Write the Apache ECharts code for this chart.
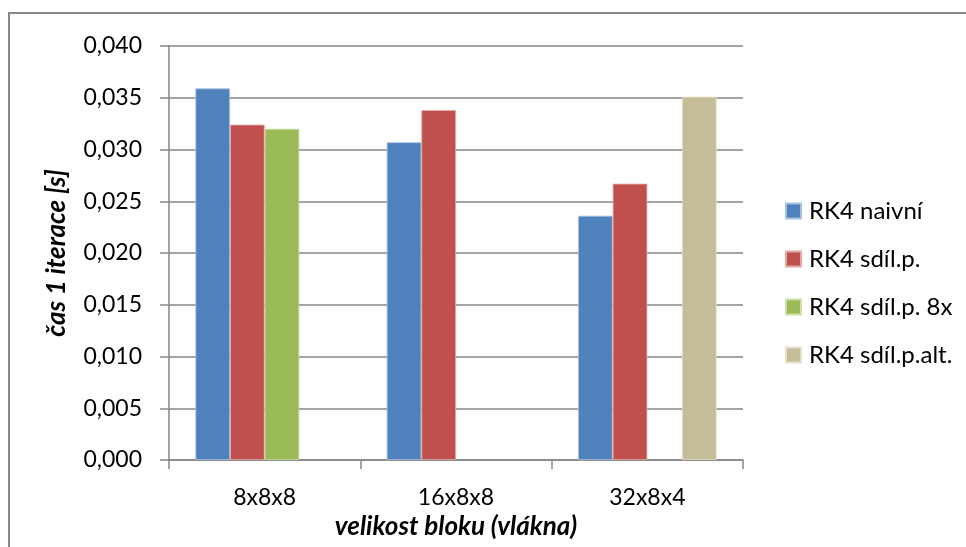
<!DOCTYPE html>
<html>
<head>
<meta charset="utf-8">
<script src="https://cdn.jsdelivr.net/npm/echarts@6/dist/echarts.min.js"></script>
<style>
  html, body { margin: 0; padding: 0; background: #fff; }
  #chart { width: 966px; height: 547px; }
</style>
</head>
<body>
<div id="chart"></div>
<script>
// Block sizes (threads per block)
const categories = ['8x8x8', '16x8x8', '32x8x4'];

// Time per iteration [s] for each kernel variant
const rk4Naivni = [0.0359, 0.0307, 0.0236];
const rk4Sdil = [0.0324, 0.0338, 0.0267];
const rk4Sdil8x = [0.0320, null, null];
const rk4SdilAlt = [null, null, 0.0351];

const seriesNames = ['RK4 naivní', 'RK4 sdíl.p.', 'RK4 sdíl.p. 8x', 'RK4 sdíl.p.alt.'];
const seriesColors = ['#4F81BD', '#C0504D', '#9BBB59', '#C4BD97'];
const seriesEdges = ['#A9C1E0', '#E3A9A7', '#CDDDAC', '#E2DECB'];

const yTicks = { min: 0, max: 0.04, interval: 0.005 };

const FONT = 'Lato';
const chart = echarts.init(document.getElementById('chart'));

const seriesData = [rk4Naivni, rk4Sdil, rk4Sdil8x, rk4SdilAlt];

chart.setOption({
  animation: false,
  backgroundColor: '#fff',
  graphic: [{
    type: 'rect',
    shape: { x: 9, y: 13, width: 980, height: 560 },
    style: { fill: 'none', stroke: '#888888', lineWidth: 2 },
    silent: true
  }],
  grid: { left: 169, right: 223, top: 46, bottom: 87 },
  legend: {
    orient: 'vertical',
    left: 785,
    top: 199,
    padding: 0,
    itemWidth: 15,
    itemHeight: 15,
    itemGap: 24,
    icon: 'rect',
    textStyle: { fontFamily: FONT, fontSize: 24, color: '#000', padding: [0, 0, 0, 3] },
    data: seriesNames
  },
  xAxis: {
    type: 'category',
    data: categories,
    name: 'velikost bloku (vlákna)',
    nameLocation: 'middle',
    nameGap: 46,
    nameTextStyle: { fontFamily: FONT, fontSize: 26, fontWeight: 'bold', fontStyle: 'italic', color: '#000' },
    axisLine: { lineStyle: { color: '#868686', width: 1.5 } },
    axisTick: { show: true, length: 9, inside: false, alignWithLabel: false, lineStyle: { color: '#868686', width: 1.5 } },
    axisLabel: { fontFamily: FONT, fontSize: 23, color: '#000', margin: 26 }
  },
  yAxis: {
    type: 'value',
    min: yTicks.min,
    max: yTicks.max,
    interval: yTicks.interval,
    name: 'čas 1 iterace [s]',
    nameLocation: 'middle',
    nameGap: 99,
    nameRotate: 90,
    nameTextStyle: { fontFamily: FONT, fontSize: 26, fontWeight: 'bold', fontStyle: 'italic', color: '#000' },
    axisLine: { show: true, lineStyle: { color: '#868686', width: 1.5 } },
    axisTick: { show: true, length: 9, lineStyle: { color: '#868686', width: 1.5 } },
    splitLine: { show: true, lineStyle: { color: '#868686', width: 1.5 } },
    axisLabel: {
      fontFamily: FONT, fontSize: 23, color: '#000', margin: 27,
      formatter: v => v.toFixed(3).replace('.', ',')
    }
  },
  series: seriesNames.map((name, i) => ({
    name,
    type: 'bar',
    data: seriesData[i],
    barGap: '0%',
    barCategoryGap: '27.6%',
    itemStyle: { color: seriesColors[i], borderColor: seriesEdges[i], borderWidth: 0.8 }
  }))
});
</script>
</body>
</html>
